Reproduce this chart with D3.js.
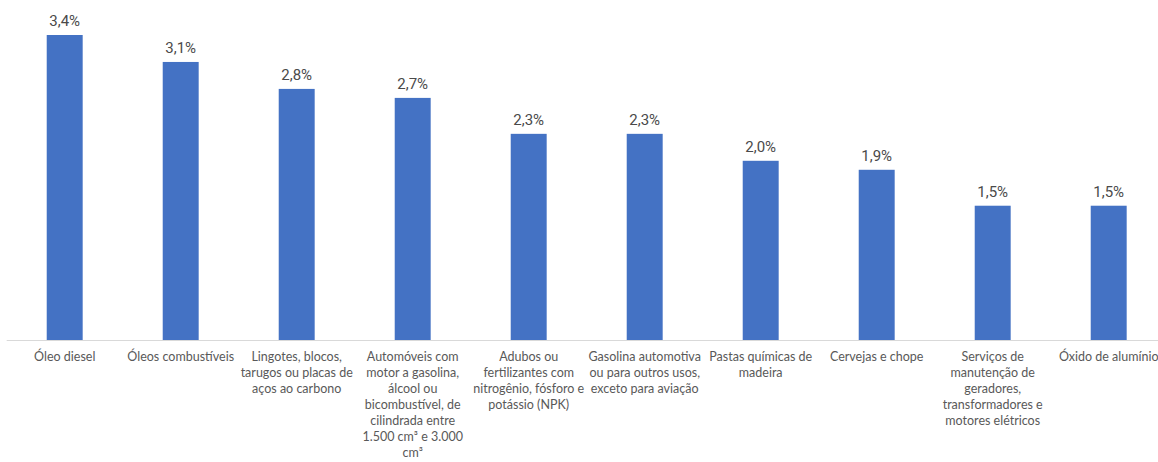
<!DOCTYPE html>
<html>
<head>
<meta charset="utf-8">
<script src="https://cdn.jsdelivr.net/npm/d3@7"></script>
<style>
    html, body { margin: 0; padding: 0; background: #fff; overflow: hidden; }
</style>
</head>
<body>
<div id="wrapper"></div>
<script>
// data
const categories = [
    'Óleo diesel',
    'Óleos combustíveis',
    'Lingotes, blocos,\ntarugos ou placas de\naços ao carbono',
    'Automóveis com\nmotor a gasolina,\nálcool ou\nbicombustível, de\ncilindrada entre\n1.500 cm³ e 3.000\ncm³',
    'Adubos ou\nfertilizantes com\nnitrogênio, fósforo e\npotássio (NPK)',
    'Gasolina automotiva\nou para outros usos,\nexceto para aviação',
    'Pastas químicas de\nmadeira',
    'Cervejas e chope',
    'Serviços de\nmanutenção de\ngeradores,\ntransformadores e\nmotores elétricos',
    'Óxido de alumínio'
];
const values = [3.4, 3.1, 2.8, 2.7, 2.3, 2.3, 2.0, 1.9, 1.5, 1.5];

const data = categories.map((c, i) => ({ name: c, value: values[i] }));

// dimensions
const dimensions = {
    width: 1158,
    height: 462,
    left: 6.7,
    right: 1166.7,
    baseline: 340.5,
    top: 35,
};

const svg = d3.select('#wrapper')
    .append('svg')
    .attr('width', dimensions.width)
    .attr('height', dimensions.height);

const x = d3.scaleBand()
    .domain(data.map(d => d.name))
    .range([dimensions.left, dimensions.right])
    .paddingInner(0.69)
    .paddingOuter(0.345);

const y = d3.scaleLinear()
    .domain([0, d3.max(values)])
    .range([dimensions.baseline, dimensions.top]);

// bars
svg.append('g')
    .selectAll('rect')
    .data(data)
    .join('rect')
    .attr('x', d => x(d.name))
    .attr('y', d => y(d.value))
    .attr('width', x.bandwidth())
    .attr('height', d => y(0) - y(d.value))
    .attr('fill', '#4472C4');

// axis line
svg.append('line')
    .attr('x1', dimensions.left)
    .attr('x2', dimensions.right)
    .attr('y1', y(0))
    .attr('y2', y(0))
    .attr('stroke', '#d9d9d9')
    .attr('stroke-width', 1);

// value labels
const fmt = v => d3.format('.1f')(v).replace('.', ',') + '%';
svg.append('g')
    .selectAll('text')
    .data(data)
    .join('text')
    .attr('x', d => x(d.name) + x.bandwidth() / 2)
    .attr('y', d => y(d.value) - 9)
    .attr('text-anchor', 'middle')
    .attr('font-family', 'Roboto, sans-serif')
    .attr('font-size', 15)
    .attr('fill', '#4a4a4a')
    .text(d => fmt(d.value));

// category labels
const labels = svg.append('g')
    .selectAll('text')
    .data(data)
    .join('text')
    .attr('text-anchor', 'middle')
    .attr('font-family', 'Lato, sans-serif')
    .attr('font-size', 12.5)
    .attr('fill', '#595959')
    .attr('transform', d => `translate(${x(d.name) + x.bandwidth() / 2}, ${y(0) + 20.5})`);

labels.selectAll('tspan')
    .data(d => d.name.split('\n'))
    .join('tspan')
    .attr('x', 0)
    .attr('y', (d, i) => i * 16)
    .text(d => d);
</script>
</body>
</html>
